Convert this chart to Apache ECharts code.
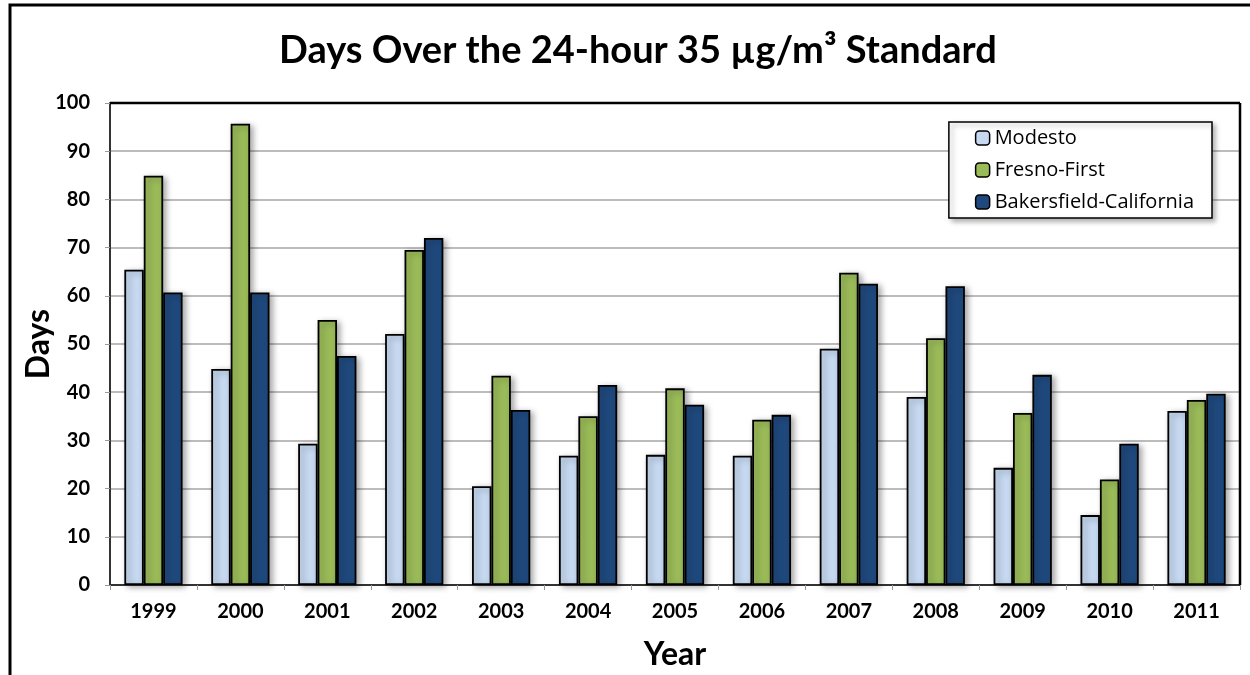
<!DOCTYPE html>
<html><head><meta charset="utf-8">
<script src="https://cdn.jsdelivr.net/npm/echarts@6/dist/echarts.min.js"></script>
<style>html,body{margin:0;padding:0;background:#fff}#c{width:1250px;height:675px}</style>
</head><body><div id="c"></div>
<script>
const years = ['1999','2000','2001','2002','2003','2004','2005','2006','2007','2008','2009','2010','2011'];
const modesto = [65.4, 44.8, 29.3, 52.1, 20.5, 26.8, 27.0, 26.8, 49.0, 39.0, 24.3, 14.5, 36.1];
const fresno = [84.9, 95.7, 55.0, 69.5, 43.4, 35.0, 40.8, 34.3, 64.8, 51.2, 35.7, 21.9, 38.4];
const bakersfield = [60.7, 60.7, 47.5, 72.0, 36.3, 41.5, 37.4, 35.3, 62.5, 62.0, 43.6, 29.3, 39.7];
const yTicks = [0,10,20,30,40,50,60,70,80,90,100];

const font = 'Lato, "Open Sans", sans-serif';
const chart = echarts.init(document.getElementById('c'), null, {renderer:'canvas'});
function bar(name, data, color){
  return {name, type:'bar', data, barGap:'0%', barCategoryGap:'33%',
    itemStyle:{color, borderColor:'#000', borderWidth:1.8,
      shadowColor:'rgba(0,0,0,0.35)', shadowBlur:6, shadowOffsetX:3, shadowOffsetY:2}};
}
chart.setOption({
  animation:false,
  backgroundColor:'#fff',
  title:{text:'Days Over the 24-hour 35 µg/m³ Standard', left:274, top:27,
    textStyle:{fontFamily:font, fontWeight:'bold', fontSize:38, color:'#000'}},
  grid:{left:110, right:10, top:103, bottom:90, containLabel:false, outerBoundsMode:'none'},
  legend:{top:122, right:38, orient:'vertical', itemWidth:14, itemHeight:14, itemGap:12,
    padding:[6,18,6,26], backgroundColor:'#fff', borderColor:'#000', borderWidth:1.5,
    shadowColor:'rgba(0,0,0,0.3)', shadowBlur:5, shadowOffsetX:3, shadowOffsetY:3,
    textStyle:{fontFamily:'"Open Sans", sans-serif', fontSize:20, color:'#000'},
    itemStyle:{borderColor:'#000', borderWidth:1.5},
    data:['Modesto','Fresno-First','Bakersfield-California']},
  xAxis:{type:'category', data:years, name:'Year', nameLocation:'middle', nameGap:54, nameMoveOverlap:false,
    nameTextStyle:{fontFamily:font, fontWeight:'bold', fontSize:32, color:'#000'},
    axisLine:{lineStyle:{color:'#333', width:2}},
    axisTick:{show:true, alignWithLabel:false, length:5, lineStyle:{color:'#999'}},
    axisLabel:{fontFamily:font, fontWeight:'bold', fontSize:20, color:'#000', margin:17}},
  yAxis:{type:'value', min:0, max:100, interval:10, name:'Days', nameLocation:'middle', nameGap:55, nameMoveOverlap:false,
    nameTextStyle:{fontFamily:font, fontWeight:'bold', fontSize:32, color:'#000'},
    axisLine:{show:true, lineStyle:{color:'#333', width:2}},
    axisTick:{show:true, length:5, lineStyle:{color:'#999'}},
    axisLabel:{fontFamily:font, fontWeight:'bold', fontSize:20, color:'#000', margin:20,
      formatter:v=>yTicks.includes(v)?String(v):''},
    splitLine:{lineStyle:{color:'#A6A6A6', width:1.5}}},
  graphic:[
    {type:'rect', shape:{x:10, y:5, width:1260, height:700}, style:{fill:'none', stroke:'#000', lineWidth:3}, z:100},
    {type:'line', shape:{x1:110, y1:103, x2:1240, y2:103}, style:{stroke:'#000', lineWidth:2.5}, z:100},
    {type:'line', shape:{x1:1240, y1:103, x2:1240, y2:585}, style:{stroke:'#000', lineWidth:2.5}, z:100}
  ],
  series:[bar('Modesto', modesto, '#C6D9F1'), bar('Fresno-First', fresno, '#9BBB59'), bar('Bakersfield-California', bakersfield, '#1F497D')]
});
</script></body></html>
